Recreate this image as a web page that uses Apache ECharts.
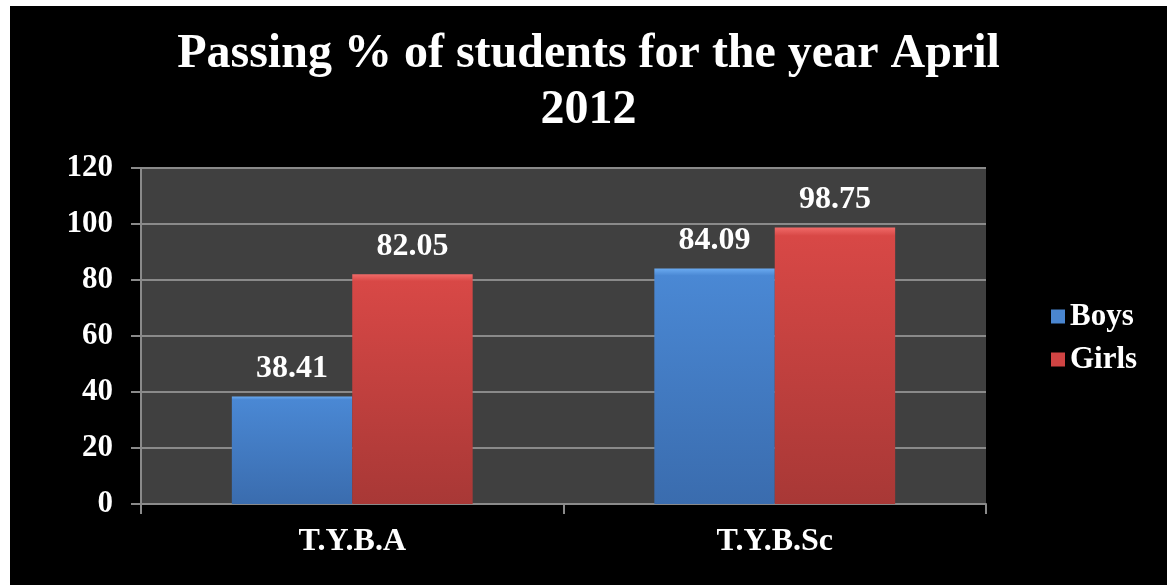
<!DOCTYPE html>
<html><head><meta charset="utf-8">
<script src="https://cdn.jsdelivr.net/npm/echarts@6/dist/echarts.min.js"></script>
<style>
html,body{margin:0;padding:0;background:#fff;width:1167px;height:585px;overflow:hidden}
#c{position:absolute;left:10px;top:6px;width:1157px;height:579px;background:#000}
</style></head><body>
<div id="c"></div>
<script>
const categories = ['T.Y.B.A', 'T.Y.B.Sc'];
const boys = [38.41, 84.09];
const girls = [82.05, 98.75];
const yTicks = [0, 20, 40, 60, 80, 100, 120];

const FONT = '"Liberation Serif","Times New Roman",serif';
function grad(top, mid, bot){
  return new echarts.graphic.LinearGradient(0,0,0,1,[
    {offset:0,color:top},{offset:0.03,color:mid},{offset:1,color:bot}]);
}
const chart = echarts.init(document.getElementById('c'));
chart.setOption({
  backgroundColor:'#000',
  animation:false,
  title:{
    text:'Passing % of students for the year April\n2012',
    left:'center', top:16,
    textStyle:{color:'#fff',fontFamily:FONT,fontWeight:'bold',fontSize:48,lineHeight:56}
  },
  legend:{
    orient:'vertical', left:1036, top:290, itemWidth:14, itemHeight:14, itemGap:12,
    icon:'rect',
    textStyle:{color:'#fff',fontFamily:FONT,fontWeight:'bold',fontSize:31},
    data:[{name:'Boys',itemStyle:{color:'#4a86d0'}},{name:'Girls',itemStyle:{color:'#d04443'}}]
  },
  grid:{left:131, right:181, top:162, bottom:81, show:true, backgroundColor:'#404040', borderWidth:0},
  xAxis:{
    type:'category', data:categories,
    axisLine:{lineStyle:{color:'#8a8a8a',width:2}},
    axisTick:{show:true,length:10,lineStyle:{color:'#8a8a8a',width:2}},
    axisLabel:{color:'#fff',fontFamily:FONT,fontWeight:'bold',fontSize:32,margin:22}
  },
  yAxis:{
    type:'value', min:yTicks[0], max:yTicks[yTicks.length-1], interval:20,
    axisLine:{show:true,lineStyle:{color:'#8a8a8a',width:2}},
    axisTick:{show:true,length:10,lineStyle:{color:'#8a8a8a',width:2}},
    splitLine:{lineStyle:{color:'#8a8a8a',width:2}},
    axisLabel:{color:'#fff',fontFamily:FONT,fontWeight:'bold',fontSize:31,margin:28}
  },
  series:[
    {name:'Boys',type:'bar',data:boys,barGap:'0%',barCategoryGap:'43%',
     itemStyle:{color:grad('#6aaaf0','#4a88d4','#3a6cae')},
     label:{show:true,position:'top',distance:12,color:'#fff',fontFamily:FONT,fontWeight:'bold',fontSize:32}},
    {name:'Girls',type:'bar',data:girls,
     itemStyle:{color:grad('#f06a68','#d84846','#a83836')},
     label:{show:true,position:'top',distance:12,color:'#fff',fontFamily:FONT,fontWeight:'bold',fontSize:32}}
  ]
});
</script>
</body></html>
